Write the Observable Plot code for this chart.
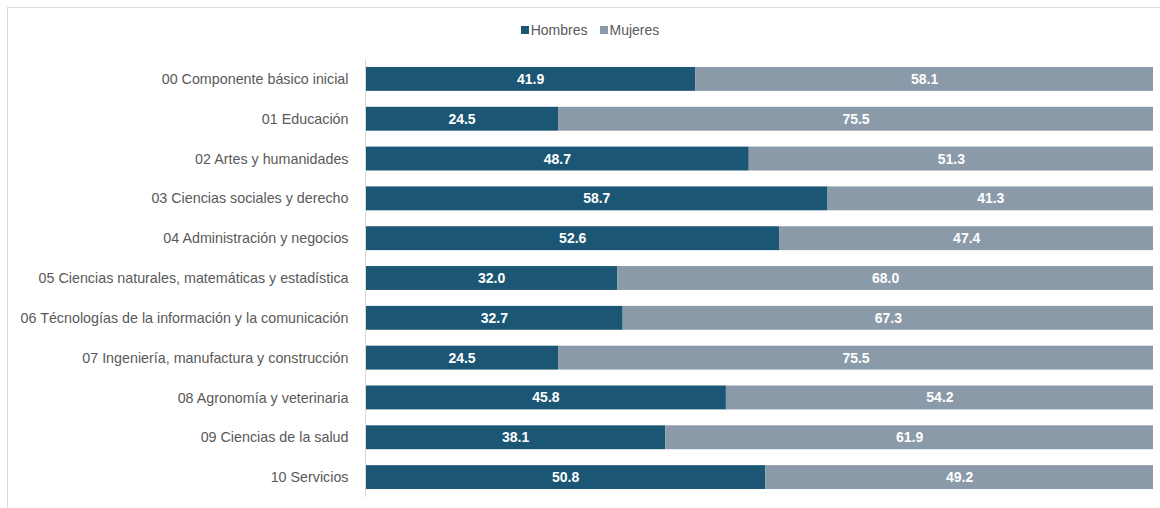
<!DOCTYPE html>
<html>
<head>
<meta charset="utf-8">
<script src="https://cdn.jsdelivr.net/npm/d3@7"></script>
<script src="https://cdn.jsdelivr.net/npm/@observablehq/plot@0.6"></script>
<style>
  html, body { margin: 0; padding: 0; background: #fff; }
  #wrap { position: relative; width: 1160px; height: 508px; overflow: hidden; font-family: "Liberation Sans", Arial, sans-serif; }
  #frame { position: absolute; left: 7px; top: 7px; width: 1200px; height: 600px; border-left: 1px solid #d9d9d9; border-top: 1px solid #d9d9d9; pointer-events: none; }
  #legend { height: 47px; display: flex; justify-content: center; align-items: center; padding-top: 12px; box-sizing: border-box; font-size: 14px; color: #595959; padding-left: 20px; }
  .item { display: flex; align-items: center; margin: 0 6px; }
  .sw { width: 8px; height: 8px; margin-right: 2px; }
  svg { display: block; }
</style>
</head>
<body>
<div id="wrap">
  <div id="frame"></div>
  <div id="legend"></div>
  <div id="chart"></div>
</div>
<script>
const categories = [
  "00 Componente básico inicial",
  "01 Educación",
  "02 Artes y humanidades",
  "03 Ciencias sociales y derecho",
  "04 Administración y negocios",
  "05 Ciencias naturales, matemáticas y estadística",
  "06 Técnologías de la información y la comunicación",
  "07 Ingeniería, manufactura y construcción",
  "08 Agronomía y veterinaria",
  "09 Ciencias de la salud",
  "10 Servicios"
];
const hombres = [41.9, 24.5, 48.7, 58.7, 52.6, 32.0, 32.7, 24.5, 45.8, 38.1, 50.8];
const mujeres = [58.1, 75.5, 51.3, 41.3, 47.4, 68.0, 67.3, 75.5, 54.2, 61.9, 49.2];
const series = ["Hombres", "Mujeres"];
const colors = ["#1b5674", "#8a9aa8"];

const data = [];
categories.forEach((c, i) => {
  data.push({cat: c, sex: "Hombres", value: hombres[i]});
  data.push({cat: c, sex: "Mujeres", value: mujeres[i]});
});

const legend = document.getElementById("legend");
series.forEach((s, i) => {
  const it = document.createElement("div");
  it.className = "item";
  it.innerHTML = `<span class="sw" style="background:${colors[i]}"></span><span>${s}</span>`;
  legend.appendChild(it);
});

const chart = Plot.plot({
  width: 1160,
  height: 461,
  marginLeft: 365,
  marginRight: 7,
  marginTop: 12,
  marginBottom: 11,
  style: {fontFamily: "'Liberation Sans', Arial, sans-serif", background: "transparent"},
  x: {domain: [0, 100], axis: null},
  y: {domain: categories, padding: 0.4, paddingOuter: 0.2, round: false, label: null, tickSize: 0, tickPadding: 17},
  color: {domain: series, range: colors},
  marks: [
    Plot.axisY({tickSize: 0, tickPadding: 17, fontSize: 14.3, color: "#595959", label: null}),
    Plot.barX(data, Plot.stackX({x: "value", y: "cat", fill: "sex", order: series})),
    Plot.textX(data, Plot.stackX({x: "value", y: "cat", z: "sex", order: series, text: d => d.value.toFixed(1), fill: "white", fontWeight: "bold", fontSize: 14})),
    Plot.ruleX([0], {stroke: "#d9d9d9", strokeWidth: 1})
  ]
});
document.getElementById("chart").appendChild(chart);
</script>
</body>
</html>
